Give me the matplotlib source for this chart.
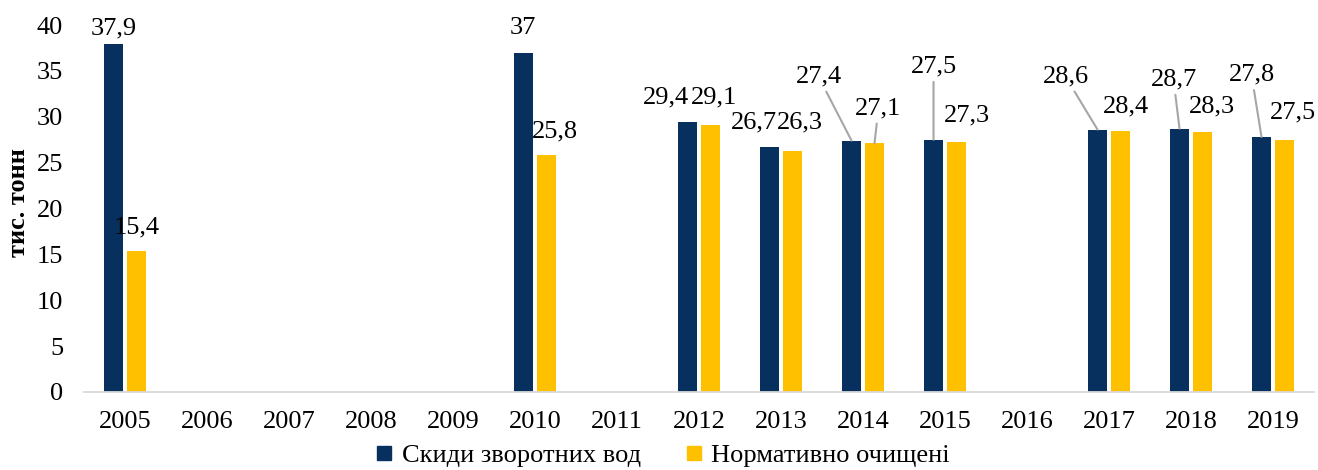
import numpy as np
import matplotlib
matplotlib.use("Agg")
import matplotlib.pyplot as plt
from matplotlib.lines import Line2D

plt.rcParams['font.family'] = ['Liberation Serif', 'DejaVu Serif']

years = ['2005', '2006', '2007', '2008', '2009', '2010', '2011', '2012',
         '2013', '2014', '2015', '2016', '2017', '2018', '2019']
nan = np.nan
discharge = [37.9, nan, nan, nan, nan, 37.0, nan, 29.4, 26.7, 27.4, 27.5, nan, 28.6, 28.7, 27.8]
treated = [15.4, nan, nan, nan, nan, 25.8, nan, 29.1, 26.3, 27.1, 27.3, nan, 28.4, 28.3, 27.5]
series_names = ['Скиди зворотних вод', 'Нормативно очищені']

# label placement (pixel offsets from bar top) and leader-line flags
dark_off = {0: (0, 16), 5: (-1, 25), 7: (-22, 24.5), 8: (-16, 24.5), 9: (-33, 64),
            10: (0, 73), 12: (-32, 53), 13: (-6, 49), 14: (-10, 62)}
dark_lead = {9, 10, 12, 13, 14}
yel_off = {0: (0.5, 23.6), 5: (8.5, 24), 7: (4, 27.5), 8: (7.5, 28.5), 9: (4, 35),
           10: (10, 26), 12: (5, 25), 13: (9, 25.6), 14: (8, 27)}
yel_lead = {9}

C_DARK = '#08305E'
C_YEL = '#FFC000'
FS = 19

fig = plt.figure(figsize=(13.18, 4.70), dpi=100)
ax = fig.add_axes([84/1318, 1-392/470, 1230/1318, 367/470])

x = np.arange(len(years))
w = 0.225
off = 0.14
d = np.array(discharge)
t = np.array(treated)
ax.bar(x - off, np.nan_to_num(d), w, color=C_DARK)
ax.bar(x + off, np.nan_to_num(t), w, color=C_YEL)

def fmt(v):
    s = ('%.1f' % v)
    if s.endswith('.0'):
        s = s[:-2]
    return s.replace('.', ',')

def label(xc, v, dxy, lead):
    kw = {}
    if lead:
        kw['arrowprops'] = dict(arrowstyle='-', color='#A6A6A6', lw=1.5,
                                shrinkA=1, shrinkB=0)
    ax.annotate(fmt(v), xy=(xc, v), xytext=dxy, textcoords='offset pixels',
                ha='center', va='center', fontsize=FS, color='black', **kw)

for i in range(len(years)):
    if not np.isnan(d[i]):
        label(x[i] - off, d[i], dark_off[i], i in dark_lead)
    if not np.isnan(t[i]):
        label(x[i] + off, t[i], yel_off[i], i in yel_lead)

ax.set_xlim(-0.5, len(years) - 0.5)
ax.set_ylim(0, 40)
ax.set_yticks(np.arange(0, 41, 5))
ax.set_xticks(x)
ax.set_xticklabels(years)
ax.tick_params(axis='both', length=0, labelsize=FS)
ax.tick_params(axis='y', pad=15)
ax.tick_params(axis='x', pad=14)
for s in ['top', 'right', 'left']:
    ax.spines[s].set_visible(False)
ax.spines['bottom'].set_color('#D9D9D9')
ax.spines['bottom'].set_linewidth(1.3)

fig.text(19/1318, 1-203/470, 'тис. тонн', rotation=90, ha='center', va='center',
         fontsize=19, fontweight='bold')

handles = [Line2D([], [], marker='s', linestyle='none', markersize=10, color=C_DARK),
           Line2D([], [], marker='s', linestyle='none', markersize=10, color=C_YEL)]
fig.legend(handles, series_names, loc='center', bbox_to_anchor=(0.503, 1-455/470),
           ncol=2, frameon=False, fontsize=FS, handlelength=0.6, handletextpad=0.35,
           columnspacing=1.7, borderaxespad=0)

fig.savefig('out.png', dpi=100)
